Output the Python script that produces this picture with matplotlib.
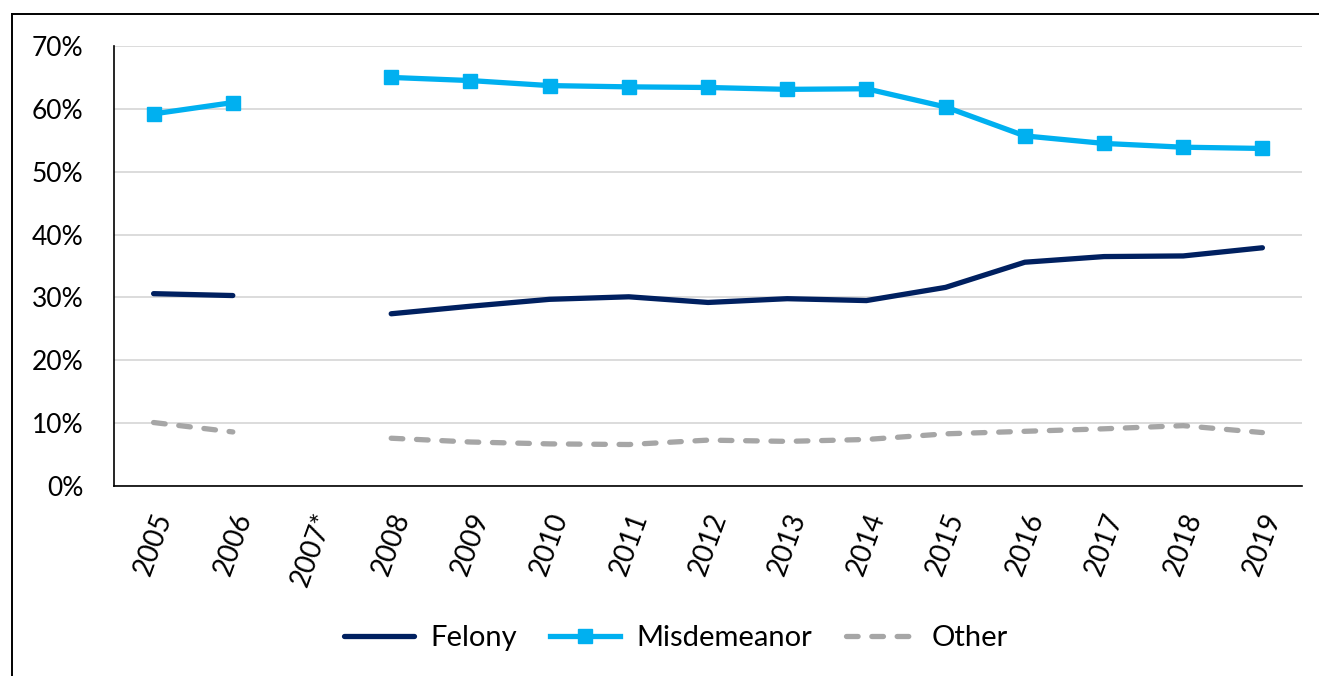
import numpy as np
import matplotlib
matplotlib.use("Agg")
import matplotlib.pyplot as plt
from matplotlib.lines import Line2D
from matplotlib.ticker import FuncFormatter, MultipleLocator

plt.rcParams['font.family'] = ['Lato', 'DejaVu Sans']

years = ["2005", "2006", "2007*", "2008", "2009", "2010", "2011", "2012",
         "2013", "2014", "2015", "2016", "2017", "2018", "2019"]
felony = [30.6, 30.3, np.nan, 27.4, 28.6, 29.7, 30.1, 29.2, 29.8, 29.5,
          31.6, 35.6, 36.5, 36.6, 37.9]
misdemeanor = [59.2, 61.0, np.nan, 65.0, 64.5, 63.7, 63.5, 63.4, 63.1, 63.2,
               60.3, 55.7, 54.5, 53.9, 53.7]
other = [10.1, 8.6, np.nan, 7.6, 7.0, 6.7, 6.6, 7.3, 7.1, 7.4,
         8.3, 8.7, 9.1, 9.6, 8.5]

W, H = 1319, 676
fig = plt.figure(figsize=(W / 100, H / 100), dpi=100)
ax = fig.add_axes([114 / W, 1 - 486 / H, (1302 - 114) / W, (486 - 46) / H])

x = np.arange(len(years))
ax.plot(x, felony, color="#002060", lw=3.8, solid_capstyle="round",
        label="Felony", zorder=3)
ax.plot(x, misdemeanor, color="#00B0F0", lw=3.8, marker="s", markersize=10,
        label="Misdemeanor", zorder=4)
ax.plot(x, other, color="#A6A6A6", lw=3.8, linestyle=(0, (2.2, 2.6)),
        dash_capstyle="round", label="Other", zorder=3)

ax.set_xlim(-0.5, len(years) - 0.5)
ax.set_ylim(0, 70)
ax.yaxis.set_major_locator(MultipleLocator(10))
ax.yaxis.set_major_formatter(FuncFormatter(lambda v, p: f"{v:.0f}%"))
ax.set_xticks(x)
ax.set_xticklabels(years, rotation=70, ha="center", va="top",
                   rotation_mode="default")
ax.grid(axis="y", color="#D9D9D9", lw=1.3, zorder=0)
ax.set_axisbelow(True)
for s in ["top", "right"]:
    ax.spines[s].set_visible(False)
for s in ["left", "bottom"]:
    ax.spines[s].set_color("black")
    ax.spines[s].set_linewidth(1.2)
ax.tick_params(axis="y", length=0, pad=22, labelsize=19)
ax.tick_params(axis="x", length=0, pad=17, labelsize=20)

leg = fig.legend(loc="center", bbox_to_anchor=(676 / W, 1 - 638 / H),
                 ncol=3, frameon=False, fontsize=21, handlelength=2.4,
                 handletextpad=0.55, columnspacing=1.15)

# outer frame
fig.add_artist(Line2D([11.5 / W, 11.5 / W], [0, 1 - 13.5 / H],
                      transform=fig.transFigure, color="black", lw=1.4))
fig.add_artist(Line2D([11.5 / W, 1], [1 - 13.5 / H, 1 - 13.5 / H],
                      transform=fig.transFigure, color="black", lw=1.4))

fig.savefig("out.png", dpi=100)
